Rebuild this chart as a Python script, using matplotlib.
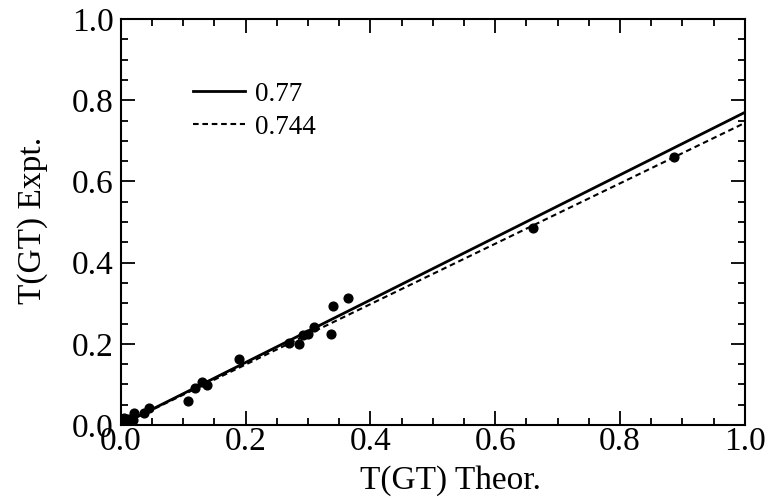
import numpy as np
import matplotlib.pyplot as plt
from matplotlib.ticker import MultipleLocator

# measured points
theor = [0.002, 0.006, 0.011, 0.019, 0.022, 0.038, 0.046,
         0.107, 0.119, 0.131, 0.138, 0.189,
         0.269, 0.285, 0.292, 0.300, 0.309, 0.337, 0.340, 0.364,
         0.660, 0.886]
expt = [0.007, 0.017, 0.015, 0.012, 0.030, 0.030, 0.042,
        0.059, 0.091, 0.106, 0.099, 0.163,
        0.202, 0.200, 0.222, 0.225, 0.241, 0.224, 0.293, 0.313,
        0.485, 0.660]

slopes = [0.77, 0.744]
styles = ['-', '--']
labels = ['0.77', '0.744']

plt.rcParams['font.family'] = ['Liberation Serif', 'DejaVu Serif']

fig = plt.figure(figsize=(7.84, 4.98), dpi=100)
ax = fig.add_axes([0.154, 0.1466, 0.796, 0.8152])

xs = np.array([0.0, 1.0])
for s, ls, lab in zip(slopes, styles, labels):
    if ls == '-':
        ax.plot(xs, s * xs, color='black', linewidth=2.0, label=lab)
    else:
        ax.plot(xs, s * xs, color='black', linewidth=1.5,
                linestyle=(0, (2.7, 1.8)), label=lab)
ax.plot(theor, expt, 'o', color='black', markersize=6.3, linestyle='none')

ax.set_xlim(0, 1)
ax.set_ylim(0, 1)
ax.xaxis.set_major_locator(MultipleLocator(0.2))
ax.yaxis.set_major_locator(MultipleLocator(0.2))
ax.xaxis.set_minor_locator(MultipleLocator(0.05))
ax.yaxis.set_minor_locator(MultipleLocator(0.05))
ax.tick_params(which='both', direction='in', top=True, right=True, width=1.3)
ax.tick_params(which='major', length=10, labelsize=24)
ax.tick_params(axis='x', which='major', pad=1)
ax.tick_params(axis='y', which='major', pad=5)
ax.tick_params(which='minor', length=5)
ax.xaxis.set_major_formatter(plt.FormatStrFormatter('%.1f'))
ax.yaxis.set_major_formatter(plt.FormatStrFormatter('%.1f'))
for sp in ax.spines.values():
    sp.set_linewidth(1.5)

fig.text(451 / 784, 1 - 481 / 498, 'T(GT) Theor.', fontsize=24,
         ha='center', va='center')
fig.text(33 / 784, 1 - 220 / 498, 'T(GT) Expt.', fontsize=24,
         ha='center', va='center', rotation=90)

ax.legend(loc='upper left', bbox_to_anchor=(0.115, 0.845), frameon=False,
          fontsize=19.5, handlelength=1.95, handletextpad=0.35,
          labelspacing=0.28, borderpad=0, borderaxespad=0)

fig.savefig('out.png', dpi=100)
